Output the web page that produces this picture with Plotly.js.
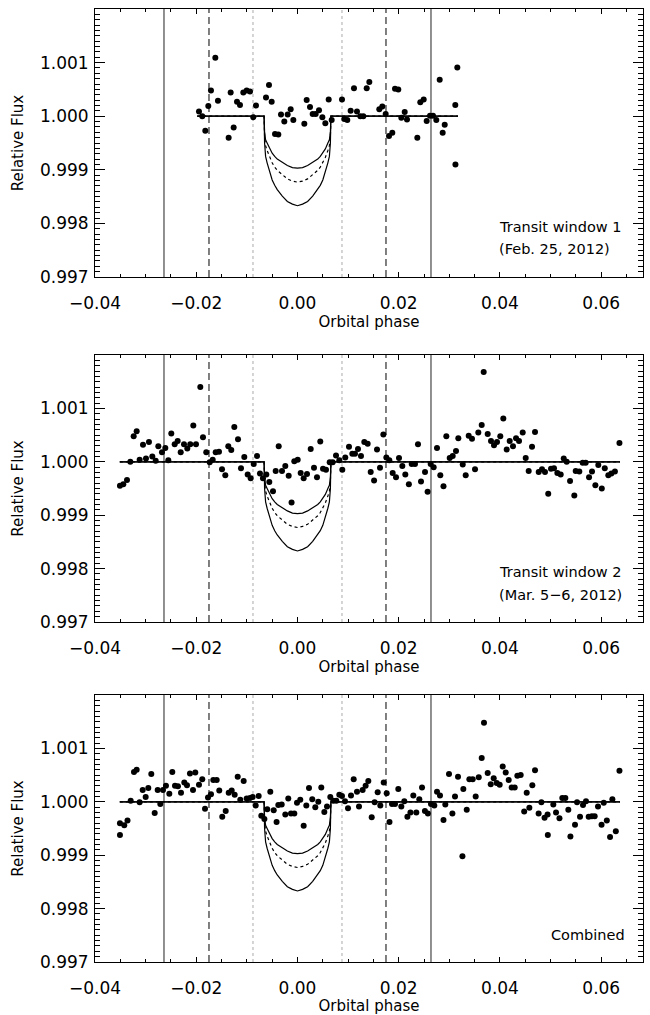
<!DOCTYPE html>
<html>
<head>
<meta charset="utf-8">
<script src="https://cdn.plot.ly/plotly-3.0.1.min.js"></script>
<style>
html,body{margin:0;padding:0;background:#fff;}
#chart{width:650px;height:1015px;}
</style>
</head>
<body>
<div id="chart"></div>
<script>
// ---------- DATA ----------
// Panel 1: Transit window 1 (Feb. 25, 2012)
const phase1 = [-0.01946,-0.01881,-0.01821,-0.01762,-0.01709,-0.01623,-0.01571,-0.01360,-0.01320,-0.01261,-0.01195,-0.01136,-0.01070,-0.01004,-0.00938,-0.00873,-0.00820,-0.00622,-0.00563,-0.00510,-0.00444,-0.00379,-0.00326,-0.00260,-0.00194,-0.00135,-0.00082,0.00135,0.00181,0.00247,0.00300,0.00359,0.00425,0.00491,0.00550,0.00616,0.00675,0.00879,0.00925,0.00984,0.01050,0.01116,0.01175,0.01241,0.01300,0.01367,0.01419,0.01616,0.01675,0.01742,0.01808,0.01873,0.01926,0.01991,0.02051,0.02118,0.02163,0.02367,0.02426,0.02493,0.02552,0.02618,0.02677,0.02742,0.02809,0.02868,0.02908,0.03117,0.03120,0.03157];
const flux1 = [1.00009,1.00000,0.99973,1.00019,1.00048,1.00109,1.00029,0.99960,1.00044,0.99979,1.00027,1.00021,1.00044,1.00048,1.00046,0.99998,1.00020,1.00035,1.00058,1.00027,0.99967,0.99966,1.00003,0.99990,1.00003,1.00013,0.99993,0.99986,1.00030,1.00017,1.00004,1.00004,1.00011,0.99998,0.99987,1.00031,0.99993,1.00031,0.99995,0.99993,1.00010,1.00052,1.00009,1.00000,1.00000,1.00052,1.00064,1.00013,1.00018,1.00004,0.99963,0.99969,1.00051,1.00050,0.99997,1.00008,0.99994,0.99960,1.00026,1.00031,0.99991,1.00001,1.00001,0.99993,1.00068,0.99969,0.99984,1.00021,0.99910,1.00091];

// Panel 2: Transit window 2 (Mar. 5-6, 2012)
const phase2 = [-0.03507,-0.03441,-0.03368,-0.03302,-0.03236,-0.03177,-0.03118,-0.03052,-0.02993,-0.02934,-0.02868,-0.02801,-0.02749,-0.02677,-0.02611,-0.02552,-0.02493,-0.02426,-0.02367,-0.02307,-0.02242,-0.02177,-0.02118,-0.02058,-0.02005,-0.01920,-0.01867,-0.01802,-0.01734,-0.01675,-0.01616,-0.01551,-0.01491,-0.01426,-0.01367,-0.01308,-0.01248,-0.01175,-0.01116,-0.01051,-0.00984,-0.00925,-0.00865,-0.00800,-0.00741,-0.00682,-0.00616,-0.00557,-0.00484,-0.00431,-0.00371,-0.00306,-0.00241,-0.00174,-0.00117,-0.00063,0.00004,0.00063,0.00122,0.00188,0.00261,0.00326,0.00385,0.00450,0.00504,0.00563,0.00636,0.00695,0.00761,0.00826,0.00885,0.00944,0.01017,0.01083,0.01136,0.01195,0.01254,0.01320,0.01386,0.01446,0.01513,0.01571,0.01630,0.01696,0.01755,0.01814,0.01880,0.01946,0.02005,0.02071,0.02130,0.02200,0.02256,0.02321,0.02380,0.02440,0.02519,0.02570,0.02631,0.02690,0.02756,0.02821,0.02884,0.02940,0.03007,0.03066,0.03131,0.03177,0.03264,0.03323,0.03382,0.03447,0.03507,0.03572,0.03639,0.03678,0.03757,0.03823,0.03882,0.03941,0.04006,0.04066,0.04133,0.04192,0.04257,0.04317,0.04376,0.04449,0.04508,0.04567,0.04633,0.04692,0.04765,0.04830,0.04889,0.04953,0.05008,0.05067,0.05133,0.05199,0.05259,0.05318,0.05384,0.05468,0.05496,0.05567,0.05634,0.05693,0.05759,0.05818,0.05884,0.05942,0.06011,0.06070,0.06140,0.06200,0.06270,0.06360];
const flux2 = [0.99955,0.99958,0.99966,1.00000,1.00048,1.00057,1.00004,1.00032,1.00006,1.00037,1.00010,1.00002,1.00029,1.00018,1.00026,1.00003,1.00053,1.00033,1.00039,1.00018,1.00033,1.00025,1.00033,1.00068,1.00033,1.00140,1.00046,1.00018,0.99999,1.00004,1.00018,1.00019,0.99986,0.99975,1.00029,1.00022,1.00065,1.00042,0.99988,1.00009,0.99976,0.99969,0.99996,1.00011,0.99978,0.99969,0.99976,0.99962,0.99945,0.99983,1.00029,0.99983,0.99992,0.99974,0.99924,1.00001,1.00004,0.99979,0.99969,0.99977,1.00024,0.99989,0.99971,1.00038,0.99987,0.99985,0.99999,0.99999,1.00012,1.00003,0.99985,1.00008,1.00028,1.00015,1.00015,1.00024,1.00011,1.00037,1.00034,0.99981,0.99965,1.00023,0.99989,1.00051,1.00008,1.00003,0.99979,0.99971,1.00007,0.99992,0.99976,0.99958,0.99996,0.99996,1.00033,0.99963,0.99981,0.99944,0.99996,0.99990,1.00026,0.99975,0.99954,1.00048,1.00007,1.00011,1.00020,1.00044,0.99995,0.99975,1.00049,1.00043,0.99986,1.00055,1.00069,1.00168,1.00052,1.00039,1.00031,1.00037,1.00048,1.00081,1.00023,1.00039,1.00029,1.00044,1.00039,1.00055,1.00007,0.99983,1.00028,1.00056,0.99981,0.99986,0.99981,0.99940,0.99987,0.99988,0.99979,0.99976,1.00006,1.00000,0.99964,0.99937,0.99983,0.99982,0.99998,0.99998,0.99971,0.99982,0.99956,0.99994,0.99950,0.99988,0.99975,0.99978,0.99982,1.00035];

// Panel 3: Combined
const phase3 = [-0.03507,-0.03507,-0.03422,-0.03358,-0.03295,-0.03230,-0.03177,-0.03118,-0.03058,-0.02999,-0.02947,-0.02888,-0.02821,-0.02762,-0.02710,-0.02657,-0.02598,-0.02532,-0.02473,-0.02420,-0.02361,-0.02301,-0.02236,-0.02183,-0.02124,-0.02064,-0.02019,-0.01946,-0.01881,-0.01827,-0.01768,-0.01709,-0.01663,-0.01596,-0.01545,-0.01486,-0.01418,-0.01359,-0.01300,-0.01241,-0.01181,-0.01130,-0.01063,-0.01004,-0.00938,-0.00885,-0.00826,-0.00767,-0.00715,-0.00654,-0.00597,-0.00537,-0.00470,-0.00413,-0.00379,-0.00312,-0.00241,-0.00182,-0.00128,-0.00063,-0.00010,0.00055,0.00122,0.00174,0.00227,0.00292,0.00352,0.00411,0.00470,0.00530,0.00583,0.00648,0.00707,0.00767,0.00826,0.00879,0.00938,0.00998,0.01057,0.01110,0.01175,0.01215,0.01287,0.01346,0.01399,0.01466,0.01524,0.01584,0.01636,0.01703,0.01762,0.01817,0.01867,0.01926,0.01991,0.02051,0.02110,0.02171,0.02231,0.02288,0.02347,0.02406,0.02460,0.02517,0.02576,0.02637,0.02703,0.02756,0.02815,0.02884,0.02920,0.02993,0.03060,0.03111,0.03171,0.03258,0.03276,0.03343,0.03395,0.03461,0.03520,0.03580,0.03639,0.03684,0.03757,0.03817,0.03876,0.03935,0.03994,0.04054,0.04113,0.04172,0.04231,0.04291,0.04343,0.04409,0.04478,0.04528,0.04580,0.04639,0.04692,0.04763,0.04817,0.04880,0.04940,0.04945,0.05053,0.05107,0.05175,0.05231,0.05291,0.05350,0.05391,0.05482,0.05522,0.05581,0.05640,0.05699,0.05752,0.05815,0.05870,0.05936,0.06006,0.06050,0.06110,0.06174,0.06220,0.06288,0.06360];
const flux3 = [0.99938,0.99960,0.99956,0.99965,1.00002,1.00056,1.00060,0.99999,1.00022,1.00009,1.00026,1.00052,0.99979,1.00022,0.99996,1.00022,1.00030,1.00015,1.00056,1.00030,1.00029,1.00017,1.00036,1.00031,1.00053,1.00022,1.00055,1.00032,1.00042,0.99987,1.00008,1.00014,1.00041,1.00041,1.00021,0.99972,0.99983,1.00017,1.00021,1.00013,1.00047,1.00004,1.00039,1.00006,1.00007,1.00009,0.99993,1.00011,0.99974,0.99968,0.99986,1.00019,0.99984,0.99962,0.99994,0.99995,0.99976,1.00006,0.99978,0.99978,0.99998,1.00004,0.99955,0.99993,1.00026,1.00005,0.99990,1.00000,1.00027,0.99981,0.99991,1.00009,1.00002,1.00002,1.00013,1.00011,1.00001,0.99988,1.00012,1.00042,1.00019,0.99991,1.00022,1.00030,1.00039,0.99971,0.99999,1.00018,0.99993,1.00036,1.00016,0.99962,0.99996,0.99996,1.00024,0.99991,1.00001,0.99972,0.99980,1.00012,0.99980,1.00005,1.00027,0.99983,0.99978,0.99996,0.99993,1.00019,1.00012,0.99966,0.99995,1.00052,0.99978,1.00010,1.00047,0.99898,1.00024,0.99985,1.00042,1.00042,1.00010,1.00046,1.00082,1.00148,1.00054,1.00033,1.00044,1.00035,1.00032,1.00066,1.00055,1.00041,1.00027,1.00027,1.00049,1.00050,0.99982,1.00017,0.99989,1.00031,1.00059,0.99978,0.99999,0.99970,0.99976,0.99938,0.99995,0.99980,0.99969,1.00007,1.00007,0.99985,0.99935,0.99957,0.99999,0.99972,0.99994,1.00001,0.99972,0.99973,0.99973,0.99991,0.99957,0.99998,0.99965,0.99934,1.00005,0.99945,1.00058];

// Transit models (three depths), flat at 1 outside the transit
const modelPhase   = [-0.0066,-0.0065,-0.0063,-0.0060,-0.0055,-0.0050,-0.0045,-0.0040,-0.0030,-0.0020,-0.0010,0.0000,0.0010,0.0020,0.0030,0.0040,0.0045,0.0050,0.0055,0.0060,0.0063,0.0065,0.0066];
const modelShallow = [1.00000,0.99971,0.99956,0.99950,0.99939,0.99931,0.99925,0.99920,0.99914,0.99908,0.99904,0.99903,0.99904,0.99908,0.99914,0.99920,0.99925,0.99931,0.99939,0.99950,0.99956,0.99971,1.00000];
const modelMiddle  = [1.00000,0.99963,0.99945,0.99936,0.99923,0.99913,0.99905,0.99899,0.99891,0.99883,0.99879,0.99877,0.99879,0.99883,0.99891,0.99899,0.99905,0.99913,0.99923,0.99936,0.99945,0.99963,1.00000];
const modelDeep    = [1.00000,0.99950,0.99925,0.99913,0.99895,0.99881,0.99871,0.99863,0.99851,0.99841,0.99836,0.99833,0.99836,0.99841,0.99851,0.99863,0.99871,0.99881,0.99895,0.99913,0.99925,0.99950,1.00000];
const modelSpan1 = [-0.0198, 0.0317];
const modelSpan23 = [-0.0351, 0.0637];

// Contact phases (vertical markers): dotted, dashed, solid
const contactDotted = 0.00879;
const contactDashed = 0.01748;
const contactSolid  = 0.02637;

// Tick labels
const xTickVals = [-0.04,-0.02,0.00,0.02,0.04,0.06];
const xTickText = ['\u22120.04','\u22120.02','0.00','0.02','0.04','0.06'];
const yTickVals = [0.997,0.998,0.999,1.000,1.001];
const yTickText = ['0.997','0.998','0.999','1.000','1.001'];

const panelLabels = [['Transit window 1','(Feb. 25, 2012)'],['Transit window 2','(Mar. 5\u22126, 2012)'],['Combined']];

// ---------- FIGURE ----------
const FONT = 'DejaVu Sans, Arial, sans-serif';
const panels = [
  {px: phase1, fy: flux1, span: modelSpan1, ax: '', dom: [0.72709, 0.99113]},
  {px: phase2, fy: flux2, span: modelSpan23, ax: '2', dom: [0.38719, 0.65025]},
  {px: phase3, fy: flux3, span: modelSpan23, ax: '3', dom: [0.05222, 0.31527]}
];

const traces = [];
const shapes = [];
const annotations = [];
const layout = {
  width: 650, height: 1015,
  margin: {l: 0, r: 0, t: 0, b: 0},
  paper_bgcolor: '#fff', plot_bgcolor: '#fff',
  showlegend: false,
  font: {family: FONT, size: 15, color: '#000'}
};

panels.forEach((p, i) => {
  const xa = 'x' + p.ax, ya = 'y' + p.ax;
  const mkModel = (ys, dash) => ({
    x: [p.span[0]].concat(modelPhase, [p.span[1]]),
    y: [1.0].concat(ys, [1.0]),
    xaxis: xa, yaxis: ya, type: 'scatter', mode: 'lines',
    line: {color: '#000', width: 1.2, dash: dash},
    hoverinfo: 'skip'
  });
  traces.push(mkModel(modelDeep, 'solid'));
  traces.push(mkModel(modelMiddle, '3px,3px'));
  traces.push(mkModel(modelShallow, 'solid'));
  traces.push({
    x: p.px, y: p.fy, xaxis: xa, yaxis: ya, type: 'scatter', mode: 'markers',
    marker: {color: '#000', size: 6}
  });

  const vline = (x, color, dash, w) => shapes.push({
    type: 'line', xref: xa, yref: ya + ' domain', x0: x, x1: x, y0: 0, y1: 1,
    line: {color: color, width: w, dash: dash}, layer: 'below'
  });
  [-contactSolid, contactSolid].forEach(x => vline(x, '#222', 'solid', 1));
  [-contactDashed, contactDashed].forEach(x => vline(x, '#000', '7px,4px', 1));
  [-contactDotted, contactDotted].forEach(x => vline(x, '#aaa', 'dot', 1));

  const axName = 'xaxis' + p.ax, ayName = 'yaxis' + p.ax;
  layout[axName] = {
    domain: [0.14615, 0.98923], range: [-0.04, 0.06825], anchor: ya,
    showline: true, linecolor: '#000', linewidth: 1, mirror: 'ticks',
    ticks: 'inside', ticklen: 5, tickcolor: '#000', tickwidth: 1,
    tickvals: xTickVals, ticktext: xTickText, ticklabelstandoff: 11,
    minor: {dtick: 0.005, tick0: 0, ticks: 'inside', ticklen: 3, tickcolor: '#000'},
    showgrid: false, zeroline: false,
    tickfont: {family: FONT, size: 17, color: '#000'},
    title: {text: 'Orbital phase', font: {family: FONT, size: 15, color: '#000'}, standoff: 0}
  };
  layout[ayName] = {
    domain: p.dom, range: [0.997, 1.002], anchor: xa,
    showline: true, linecolor: '#000', linewidth: 1, mirror: 'ticks',
    ticks: 'inside', ticklen: 10, tickcolor: '#000', tickwidth: 1,
    tickvals: yTickVals, ticktext: yTickText, ticklabelstandoff: 2,
    minor: {dtick: 0.0001, tick0: 0.997, ticks: 'inside', ticklen: 5, tickcolor: '#000'},
    showgrid: false, zeroline: false,
    tickfont: {family: FONT, size: 17, color: '#000'},
    title: {text: 'Relative Flux', font: {family: FONT, size: 15, color: '#000'}, standoff: 12}
  };

  const lbl = panelLabels[i];
  if (lbl.length === 2) {
    annotations.push({
      xref: xa + ' domain', yref: ya + ' domain', x: 0.7336, y: 0.186,
      xanchor: 'left', yanchor: 'middle', showarrow: false,
      text: lbl[0], font: {family: FONT, size: 14.5, color: '#000'}
    });
    annotations.push({
      xref: xa + ' domain', yref: ya + ' domain', x: 0.7336, y: 0.103,
      xanchor: 'left', yanchor: 'middle', showarrow: false,
      text: lbl[1], font: {family: FONT, size: 14.5, color: '#000'}
    });
  } else {
    annotations.push({
      xref: xa + ' domain', yref: ya + ' domain', x: 0.971, y: 0.1,
      xanchor: 'right', yanchor: 'middle', showarrow: false,
      text: lbl[0], font: {family: FONT, size: 14.5, color: '#000'}
    });
  }
});

layout.shapes = shapes;
layout.annotations = annotations;

Plotly.newPlot('chart', traces, layout, {displayModeBar: false, staticPlot: true});
</script>
</body>
</html>
